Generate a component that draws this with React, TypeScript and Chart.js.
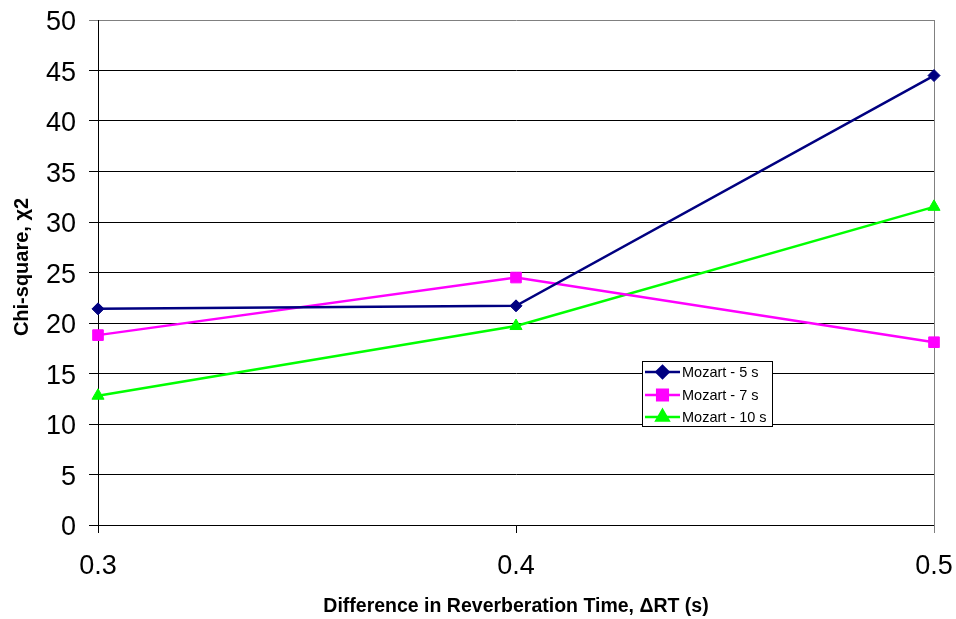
import React, { useEffect, useRef } from 'react';
import { Chart, registerables } from 'chart.js';
import { drawPoint } from 'chart.js/helpers';

Chart.register(...registerables);

const categories = ['0.3', '0.4', '0.5'];
const mozart5 = [21.4, 21.7, 44.5];
const mozart7 = [18.8, 24.5, 18.1];
const mozart10 = [12.8, 19.7, 31.5];
const seriesLabels = ['Mozart - 5 s', 'Mozart - 7 s', 'Mozart - 10 s'];
const seriesColors = ['#000080', '#FF00FF', '#00FF00'];
const seriesMarkers = ['rectRot', 'rect', 'triangle'];
const markerRadius = [6, 7.5, 7];
const yMin = 0;
const yMax = 50;
const yStep = 5;
const xTitle = 'Difference in Reverberation Time, \u0394RT (s)';
const yTitle = 'Chi-square, \u03c72';

const FONT = '"Liberation Sans", Arial, sans-serif';

const boxLegend = {
  id: 'boxLegend',
  afterDraw(chart: any) {
    const ctx = chart.ctx as CanvasRenderingContext2D;
    const x0 = 642.5, y0 = 361.5, w = 130, h = 65;
    ctx.save();
    ctx.fillStyle = '#ffffff';
    ctx.fillRect(x0, y0, w, h);
    ctx.strokeStyle = '#000000';
    ctx.lineWidth = 1;
    ctx.strokeRect(x0, y0, w, h);
    const rows = [372, 395, 417];
    chart.data.datasets.forEach((ds: any, i: number) => {
      const y = rows[i];
      ctx.strokeStyle = ds.borderColor;
      ctx.lineWidth = 2.5;
      ctx.beginPath();
      ctx.moveTo(645, y);
      ctx.lineTo(680, y);
      ctx.stroke();
      ctx.fillStyle = ds.backgroundColor;
      ctx.strokeStyle = ds.borderColor;
      drawPoint(ctx, { pointStyle: ds.pointStyle, radius: ds.pointRadius, rotation: 0, borderWidth: 1 } as any, 662.5, y);
      ctx.fillStyle = '#000000';
      ctx.font = '14.5px ' + FONT;
      ctx.textBaseline = 'middle';
      ctx.textAlign = 'left';
      ctx.fillText(ds.label, 682, y + 1);
    });
    ctx.restore();
  },
};

const yAxisTitle = {
  id: 'yAxisTitle',
  afterDraw(chart: any) {
    const ctx = chart.ctx as CanvasRenderingContext2D;
    ctx.save();
    ctx.translate(22, 267);
    ctx.rotate(-Math.PI / 2);
    ctx.fillStyle = '#000';
    ctx.font = 'bold 20px ' + FONT;
    ctx.textAlign = 'center';
    ctx.textBaseline = 'middle';
    ctx.fillText(yTitle, 0, 0);
    ctx.restore();
  },
};

const plotBorder = {
  id: 'plotBorder',
  beforeDatasetsDraw(chart: any) {
    const { ctx, chartArea } = chart;
    ctx.save();
    ctx.strokeStyle = '#808080';
    ctx.lineWidth = 1;
    ctx.beginPath();
    const r = Math.round(chartArea.right) + 0.5;
    ctx.moveTo(r, chartArea.top);
    ctx.lineTo(r, chartArea.bottom + 8);
    ctx.stroke();
    ctx.restore();
  },
};

export default function App() {
  const ref = useRef<HTMLCanvasElement>(null);
  useEffect(() => {
    if (!ref.current) return;
    const data = [mozart5, mozart7, mozart10];
    const chart = new Chart(ref.current, {
      type: 'line',
      data: {
        labels: categories,
        datasets: data.map((d, i) => ({
          label: seriesLabels[i],
          data: d,
          borderColor: seriesColors[i],
          backgroundColor: seriesColors[i],
          borderWidth: 2.5,
          pointStyle: seriesMarkers[i] as any,
          pointRadius: markerRadius[i],
          pointBorderWidth: 1,
          tension: 0,
        })),
      },
      options: {
        animation: false,
        responsive: false,
        devicePixelRatio: 1,
        layout: { padding: { top: 20, right: 22, left: 0, bottom: 0 } },
        plugins: { legend: { display: false }, tooltip: { enabled: false } },
        scales: {
          x: {
            type: 'category',
            offset: false,
            grid: { display: true, drawOnChartArea: false, color: '#000', tickLength: 8 },
            border: { display: true, color: '#000', width: 1 },
            ticks: { color: '#000', font: { family: FONT, size: 27 }, padding: 17, maxRotation: 0 },
            title: { display: true, text: xTitle, color: '#000', font: { family: FONT, size: 19.5, weight: 'bold', lineHeight: 1 }, padding: { top: 0, bottom: 2.5 } },
            afterFit(scale: any) {
              scale.height = 94;
              scale.paddingLeft = 0;
              scale.paddingRight = 0;
            },
          },
          y: {
            min: yMin,
            max: yMax,
            ticks: { stepSize: yStep, color: '#000', font: { family: FONT, size: 27 }, padding: 13, labelOffset: 3 },
            grid: {
              color: (c: any) => (c.tick && c.tick.value === yMax ? '#808080' : '#000'),
              tickLength: 9,
              lineWidth: 1,
            },
            border: { display: true, color: '#000', width: 1 },
            title: { display: false },
            afterFit(scale: any) {
              scale.width = 98;
              scale.paddingTop = 0;
              scale.paddingBottom = 0;
            },
          },
        },
      },
      plugins: [plotBorder, yAxisTitle, boxLegend],
    });
    return () => chart.destroy();
  }, []);
  return (
    <div style={{ position: 'absolute', left: 0, top: 0, width: 956, height: 619, background: '#fff' }}>
      <canvas ref={ref} width={956} height={619} />
    </div>
  );
}
